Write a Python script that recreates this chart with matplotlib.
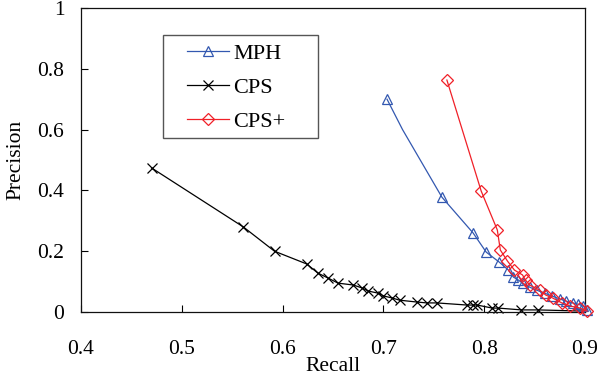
import matplotlib
matplotlib.use("Agg")
import matplotlib.pyplot as plt
from matplotlib.patches import Rectangle

plt.rcParams['font.family'] = ['Liberation Serif', 'DejaVu Serif']

mph_recall = [0.7036, 0.719, 0.758, 0.789, 0.802, 0.815, 0.824, 0.829, 0.834, 0.838,
              0.845, 0.852, 0.860, 0.867, 0.875, 0.881, 0.888, 0.893, 0.898, 0.902]
mph_prec = [0.700, 0.600, 0.378, 0.260, 0.197, 0.164, 0.138, 0.115, 0.105, 0.095,
            0.082, 0.072, 0.062, 0.053, 0.043, 0.036, 0.030, 0.026, 0.020, 0.006]
mph_unmarked = [1]

cps_recall = [0.470, 0.561, 0.592, 0.624, 0.635, 0.645, 0.655, 0.670, 0.679, 0.685,
              0.695, 0.700, 0.709, 0.716, 0.733, 0.743, 0.753, 0.783, 0.789, 0.793,
              0.808, 0.814, 0.837, 0.853, 0.900]
cps_prec = [0.474, 0.280, 0.200, 0.158, 0.128, 0.112, 0.095, 0.089, 0.079, 0.069,
            0.062, 0.053, 0.046, 0.039, 0.033, 0.030, 0.030, 0.023, 0.023, 0.023,
            0.013, 0.013, 0.007, 0.007, 0.003]
cps_unmarked = [24]

cpsp_recall = [0.763, 0.797, 0.813, 0.816, 0.823, 0.830, 0.838, 0.841, 0.845, 0.855,
               0.861, 0.868, 0.877, 0.885, 0.895, 0.902]
cpsp_prec = [0.763, 0.398, 0.270, 0.204, 0.168, 0.138, 0.122, 0.105, 0.089, 0.072,
             0.056, 0.046, 0.030, 0.020, 0.013, 0.003]

x_ticks = [0.4, 0.5, 0.6, 0.7, 0.8, 0.9]
x_tick_labels = ['0.4', '0.5', '0.6', '0.7', '0.8', '0.9']
y_ticks = [0, 0.2, 0.4, 0.6, 0.8, 1]
y_tick_labels = ['0', '0.2', '0.4', '0.6', '0.8', '1']

fig = plt.figure(figsize=(6, 3.81), dpi=100)
ax = fig.add_axes([0.135, 0.181, 0.84, 0.798])

blue = '#3358B0'
red = '#F02028'
fs = 15.5

def marked(n, skip):
    return [i for i in range(n) if i not in skip]

ax.plot(mph_recall, mph_prec, color=blue, lw=0.9, marker='^', mfc='none',
        mec=blue, ms=7.5, mew=0.9, markevery=marked(len(mph_recall), mph_unmarked),
        label='MPH', clip_on=False, zorder=3)
ax.plot(cps_recall, cps_prec, color='black', lw=0.9, marker='x', ms=7.5, mew=0.9,
        markevery=marked(len(cps_recall), cps_unmarked), label='CPS',
        clip_on=False, zorder=2)
ax.plot(cpsp_recall, cpsp_prec, color=red, lw=0.9, marker='D', mfc='none',
        mec=red, ms=6.5, mew=0.9, label='CPS+', clip_on=False, zorder=4)

ax.set_xlim(0.4, 0.9)
ax.set_ylim(0, 1)
ax.set_xticks(x_ticks)
ax.set_xticklabels(x_tick_labels)
ax.set_yticks(y_ticks)
ax.set_yticklabels(y_tick_labels)
ax.tick_params(axis='both', direction='in', length=5, width=0.8, labelsize=fs)
ax.tick_params(axis='x', pad=20)
ax.tick_params(axis='y', pad=12)
for s in ax.spines.values():
    s.set_linewidth(0.9)
    s.set_color('#111111')

ax.set_xlabel('Recall', fontsize=fs)
ax.set_ylabel('Precision', fontsize=fs)
ax.xaxis.set_label_coords(0.5, -0.148)
ax.yaxis.set_label_coords(-0.111, 0.5)

leg = ax.legend(loc='upper left', bbox_to_anchor=(0.21, 0.883), fontsize=16,
                frameon=False, handlelength=1.9, labelspacing=0.6,
                borderpad=0, handletextpad=0.2, borderaxespad=0)
ax.add_patch(Rectangle((0.163, 0.572), 0.3075, 0.339, transform=ax.transAxes,
                       fill=False, edgecolor='#555555', linewidth=1.0, zorder=5))

fig.savefig('out.png', dpi=100)
